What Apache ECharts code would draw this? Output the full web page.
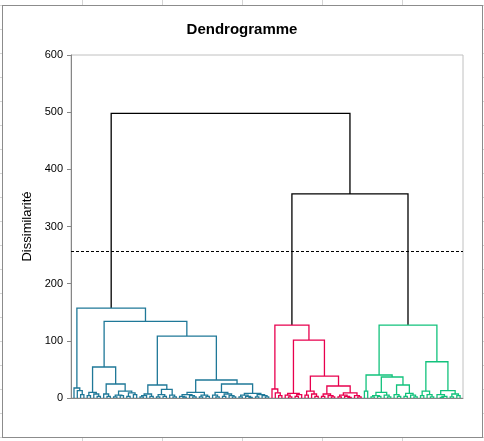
<!DOCTYPE html>
<html>
<head>
<meta charset="utf-8">
<script src="https://cdn.jsdelivr.net/npm/echarts@6/dist/echarts.min.js"></script>
<style>
  html, body { margin: 0; padding: 0; background: #fff; }
  #wrap { position: relative; width: 484px; height: 441px; overflow: hidden; }
  .gl { position: absolute; background: #d4d4d4; }
  #frame { position: absolute; left: 2px; top: 5px; width: 479px; height: 431px; border: 1px solid #8c8c8c; background: #fff; }
  #chart { position: absolute; left: 0; top: 0; width: 484px; height: 441px; }
</style>
</head>
<body>
<div id="wrap"><div id="frame"></div><div id="chart"></div></div>
<script>
// ---- Data ----
// Tree nodes: [mergeHeight, left, right]; a leaf is 0.
const blueTree = [157.3,
  [17.5, 0, [13, 0, [6, 0, 0]]],
  [133.9,
    [54.2,
      [10, [4, 0, 0], [7, 0, [3, 0, 0]]],
      [24.5, [7, 0, [3, 0, 0]], [12, [5, [2, 0, 0], [4, 0, 0]], [9, [3, 0, 0], [6, 0, 0]]]]
    ],
    [108.4,
      [22.7, [7, [4, [2, 0, 0], 0], [3, 0, 0]], [15, [6, [2, 0, 0], [3, 0, 0]], [5, 0, [2, 0, 0]]]],
      [31.5,
        [10, [6, [3, 0, [1.5, 0, 0]], [4, 0, [2, 0, 0]]], [5, [2, 0, 0], [3, 0, 0]]],
        [24.5, [10, [5, 0, [2, 0, 0]], [7, [3, 0, 0], [4, 0, [2, 0, 0]]]],
               [8, [5, [2, 0, 0], [3, 0, [1, 0, 0]]], [6, [2, 0, 0], [4, 0, [2, 0, 0]]]]]
      ]
    ]
  ]
];
const redTree = [127.6,
  [15.7, 0, [9, 0, [4, 0, 0]]],
  [101.4,
    [8, [5, 0, [2, 0, 0]], [6, [3, 0, 0], 0]],
    [38.4,
      [12, [5, 0, 0], [7, 0, [3, 0, 0]]],
      [21, [7, [3, 0, 0], [4, 0, [2, 0, 0]]], [9, [5, [2, 0, 0], [3, 0, [1, 0, 0]]], [4, 0, [2, 0, 0]]]]
    ]
  ]
];
const greenTree = [127.6,
  [40.2,
    [12, 0, 0],
    [36.7,
      [10, [4, [2, 0, 0], [3, 0, 0]], [5, 0, [2, 0, 0]]],
      [22.7, [6, 0, [3, 0, 0]], [8, [3, 0, 0], [5, 0, [2, 0, 0]]]]
    ]
  ],
  [63.4,
    [12, [4, 0, 0], [6, 0, [2, 0, 0]]],
    [13, [6, 0, [3, [1, 0, 0], 0]], [7, [2, 0, 0], [4, 0, 0]]]
  ]
];
const upperHeights = [357, 498];   // red+green merge, root merge
const cutLevel = 257.4;
const yTicks = [0, 100, 200, 300, 400, 500, 600];
const titleText = 'Dendrogramme';
const yName = 'Dissimilarité';

// ---- Layout of the tree (leaf order) ----
const segs = { blue: [], red: [], green: [], black: [] };
let leafIdx = 0;
function layout(node, color) {
  if (node === 0) { return { x: leafIdx++, h: 0 }; }
  const L = layout(node[1], color);
  const R = layout(node[2], color);
  segs[color].push([L.x, R.x, L.h, R.h, node[0]]);
  return { x: (L.x + R.x) / 2, h: node[0] };
}
const bRoot = layout(blueTree, 'blue');
const rRoot = layout(redTree, 'red');
const gRoot = layout(greenTree, 'green');
segs.black.push([rRoot.x, gRoot.x, rRoot.h, gRoot.h, upperHeights[0]]);
const rgX = (rRoot.x + gRoot.x) / 2;
segs.black.push([bRoot.x, rgX, bRoot.h, upperHeights[0], upperHeights[1]]);
const nLeaves = leafIdx;

// ---- Background spreadsheet grid (decoration) ----
const wrap = document.getElementById('wrap');
[82, 162, 242, 322, 402].forEach(x => {
  const d = document.createElement('div'); d.className = 'gl';
  d.style.left = x + 'px'; d.style.top = '0px'; d.style.width = '1px'; d.style.height = '441px';
  wrap.insertBefore(d, wrap.firstChild);
});
for (let y = 5; y < 441; y += 24) {
  const d = document.createElement('div'); d.className = 'gl';
  d.style.left = '0px'; d.style.top = y + 'px'; d.style.width = '484px'; d.style.height = '1px';
  wrap.insertBefore(d, wrap.firstChild);
}

const colors = { blue: '#1f7898', red: '#e8004e', green: '#12c27c', black: '#000000' };
function mkSeries(key) {
  return {
    type: 'custom',
    data: segs[key],
    encode: { x: [0, 1], y: [2, 3, 4] },
    silent: true,
    renderItem: function (params, api) {
      const p1 = api.coord([api.value(0), api.value(2)]);
      const p2 = api.coord([api.value(0), api.value(4)]);
      const p3 = api.coord([api.value(1), api.value(4)]);
      const p4 = api.coord([api.value(1), api.value(3)]);
      return { type: 'polyline', shape: { points: [p1, p2, p3, p4] },
               style: { stroke: colors[key], fill: null, lineWidth: 1.3 } };
    }
  };
}

const spacing = 3.3;               // px per leaf
const gridLeft = 71, gridRight = 463;
const xMin = -(74 - gridLeft) / spacing;
const xMax = xMin + (gridRight - gridLeft) / spacing;

const chart = echarts.init(document.getElementById('chart'), null, { renderer: 'canvas' });
const series = ['black', 'blue', 'red', 'green'].map(mkSeries);
series[0].markLine = {
  silent: true, symbol: 'none', label: { show: false },
  lineStyle: { color: '#000', type: [3, 2], width: 1 },
  data: [{ yAxis: cutLevel }]
};
chart.setOption({
  backgroundColor: 'transparent',
  animation: false,
  title: {
    text: titleText, left: 'center', top: 17,
    textStyle: { fontFamily: 'Liberation Sans', fontWeight: 'bold', fontSize: 15, color: '#000' }
  },
  grid: { left: gridLeft, right: 484 - gridRight, top: 55, bottom: 441 - 398,
          show: true, borderColor: '#c0c0c0', borderWidth: 1, backgroundColor: 'transparent' },
  xAxis: {
    type: 'value', min: xMin, max: xMax,
    axisLine: { show: true, onZero: false, lineStyle: { color: '#868686' } },
    axisTick: { show: false }, axisLabel: { show: false }, splitLine: { show: false }
  },
  yAxis: {
    type: 'value', min: yTicks[0], max: yTicks[yTicks.length - 1], interval: yTicks[1] - yTicks[0],
    name: yName, nameLocation: 'middle', nameGap: 29, nameRotate: 90,
    nameTextStyle: { fontFamily: 'Liberation Sans', fontSize: 13, color: '#000' },
    axisLine: { show: true, onZero: false, lineStyle: { color: '#868686' } },
    axisTick: { show: true, length: 4, lineStyle: { color: '#868686' } },
    axisLabel: { fontFamily: 'Liberation Sans', fontSize: 11, color: '#000', margin: 8 },
    splitLine: { show: false }
  },
  series: series
});
</script>
</body>
</html>
